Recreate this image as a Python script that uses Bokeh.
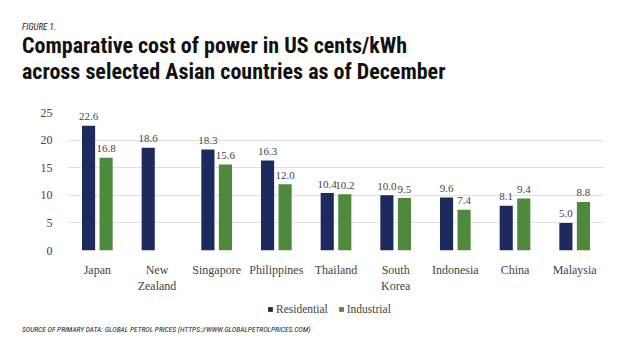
from bokeh.plotting import figure
from bokeh.layouts import column
from bokeh.models import ColumnDataSource, FactorRange, Range1d, Legend, LegendItem, Div
from bokeh.embed import file_html
from bokeh.resources import INLINE
from bokeh.core.properties import value
from bokeh.transform import dodge

countries = ["Japan", "New\nZealand", "Singapore", "Philippines", "Thailand",
             "South\nKorea", "Indonesia", "China", "Malaysia"]
residential = [22.6, 18.6, 18.3, 16.3, 10.4, 10.0, 9.6, 8.1, 5.0]
industrial = [16.8, None, 15.6, 12.0, 10.2, 9.5, 7.4, 9.4, 8.8]
series_names = ["Residential", "Industrial"]
y_ticks = [0, 5, 10, 15, 20, 25]

figure_tag = "FIGURE 1."
title_1 = "Comparative cost of power in US cents/kWh"
title_2 = "across selected Asian countries as of December"
source_note = "SOURCE OF PRIMARY DATA: GLOBAL PETROL PRICES (HTTPS://WWW.GLOBALPETROLPRICES.COM)"

NAVY = "#1c2a5e"
GREEN = "#4f8a3c"
SERIF = "Liberation Serif"
COND_CSS = "'Roboto Condensed','DejaVu Sans Condensed',Roboto,sans-serif"
TXT = "#444444"

W = 624
H_TOP, H_MAIN, H_LEG, H_SRC = 96, 200, 24, 24

# ---- title block (HTML text) ----
title_html = (
    f'<div style="margin:0;padding:0 0 0 22px;font-family:{COND_CSS};color:#111111;">'
    '<div style="height:23px"></div>'
    f'<div style="font-size:9px;line-height:9px;height:9px;font-style:italic;'
    f'color:#222222;white-space:nowrap">{figure_tag}</div>'
    '<div style="height:1px"></div>'
    f'<div style="font-size:22px;line-height:26px;font-weight:bold;white-space:nowrap">'
    f'{title_1}<br>{title_2}</div></div>'
)
top = Div(text=title_html, width=W, height=H_TOP, margin=0)

# ---- main chart ----
p = figure(width=W, height=H_MAIN, x_range=FactorRange(*countries, range_padding=0),
           y_range=(0, 25), output_backend="svg", toolbar_location=None,
           min_border_left=67, min_border_right=W - 604, min_border_top=112 - H_TOP,
           min_border_bottom=H_MAIN - (256 - H_TOP))
p.outline_line_color = None

res_x, res_y, res_t = [], [], []
ind_x, ind_y, ind_t = [], [], []
for c, r, i in zip(countries, residential, industrial):
    res_x.append(c); res_y.append(r); res_t.append(f"{r:.1f}")
    if i is not None:
        ind_x.append(c); ind_y.append(i); ind_t.append(f"{i:.1f}")

src_r = ColumnDataSource(dict(x=res_x, y=res_y, t=res_t))
src_i = ColumnDataSource(dict(x=ind_x, y=ind_y, t=ind_t))

p.vbar(x=dodge("x", -0.147, range=p.x_range), top="y", width=0.22, source=src_r,
       fill_color=NAVY, line_color=None)
p.vbar(x=dodge("x", 0.147, range=p.x_range), top="y", width=0.22, source=src_i,
       fill_color=GREEN, line_color=None)

for src, off in ((src_r, -0.147), (src_i, 0.147)):
    p.text(x=dodge("x", off, range=p.x_range), y="y", text="t", source=src,
           text_align="center", text_baseline="alphabetic", y_offset=-9,
           text_font=value(SERIF), text_font_size="11px", text_color=TXT)

p.yaxis.ticker = y_ticks
for ax in (p.xaxis, p.yaxis):
    ax.axis_line_color = None
    ax.major_tick_line_color = None
    ax.minor_tick_line_color = None
    ax.major_label_text_font = SERIF
    ax.major_label_text_font_size = "12px"
    ax.major_label_text_color = TXT
p.yaxis.major_label_standoff = 9
p.xaxis.major_label_standoff = 6
p.xgrid.grid_line_color = None
p.ygrid.grid_line_color = "#e0e0e0"
p.ygrid.grid_line_width = 1

# ---- legend strip ----
leg = figure(width=W, height=H_LEG, x_range=Range1d(0, W), y_range=Range1d(H_LEG, 0),
             x_axis_location=None, y_axis_location=None, output_backend="svg",
             toolbar_location=None, min_border=0)
leg.grid.visible = False
leg.outline_line_color = None
# swatch renderers kept off-range so only their legend glyphs show
g_r = leg.vbar(x=[-1000], top=[-1000], width=1, fill_color=NAVY, line_color=None)
g_i = leg.vbar(x=[-1000], top=[-1000], width=1, fill_color=GREEN, line_color=None)
legend = Legend(items=[LegendItem(label=series_names[0], renderers=[g_r]),
                       LegendItem(label=series_names[1], renderers=[g_i])],
                orientation="horizontal", location=(200, 5),
                label_text_font=SERIF, label_text_font_size="11.5px",
                label_text_color=TXT, glyph_width=6, glyph_height=6,
                label_height=12, label_width=10,
                spacing=10, label_standoff=3, border_line_color=None,
                background_fill_alpha=0, padding=0, margin=0)
leg.add_layout(legend, "center")

# ---- source line (HTML text) ----
src_html = (
    f'<div style="margin:0;padding:5px 0 0 22px;font-family:{COND_CSS};font-size:7.5px;'
    f'line-height:9px;font-style:italic;color:#222222;white-space:nowrap">{source_note}</div>'
)
bot = Div(text=src_html, width=W, height=H_SRC, margin=0)

layout = column(top, p, leg, bot, spacing=0)
open("out.html", "w").write(file_html(layout, INLINE))
